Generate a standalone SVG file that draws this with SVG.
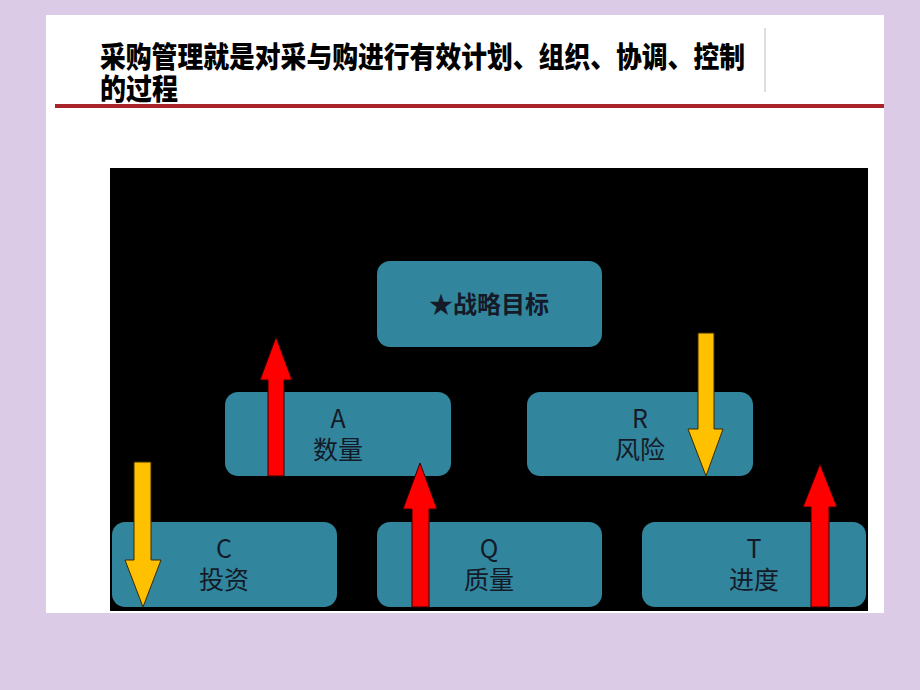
<svg xmlns="http://www.w3.org/2000/svg" width="920" height="690" viewBox="0 0 920 690">
<defs>
<style>
.box{fill:#31859c;}
.lbl{font-family:"Noto Sans CJK SC","Noto Sans",sans-serif;font-size:25px;fill:#141a28;text-anchor:middle;}
.title{font-family:"Noto Sans CJK SC","Noto Sans",sans-serif;font-size:29px;font-weight:900;fill:#000;}
.up{fill:#ff0000;stroke:#300;stroke-width:1;}
.down{fill:#ffc000;stroke:#3a2a00;stroke-width:1;}
</style>
</defs>
<rect x="0" y="0" width="920" height="690" fill="#dccbe6"/>
<rect x="46" y="15" width="838" height="598" fill="#ffffff"/>
<text class="title" x="100" y="68" textLength="645" lengthAdjust="spacingAndGlyphs">采购管理就是对采与购进行有效计划、组织、协调、控制</text>
<text class="title" x="100" y="100" textLength="78" lengthAdjust="spacingAndGlyphs">的过程</text>
<line x1="765" y1="28" x2="765" y2="92" stroke="#c8c8c8" stroke-width="1.2"/>
<rect x="55" y="104" width="829" height="4" fill="#a8232a"/>
<rect x="110" y="168" width="758" height="443" fill="#000000"/>

<g id="goal">
<rect class="box" x="377" y="261" width="225" height="86" rx="13"/>
<text class="lbl" x="489" y="313" style="font-weight:700;font-size:24px">★战略目标</text>
</g>
<g id="A">
<rect class="box" x="225" y="392" width="226" height="84" rx="13"/>
<text class="lbl" x="338" y="428">A</text>
<text class="lbl" x="338" y="459">数量</text>
</g>
<g id="R">
<rect class="box" x="527" y="392" width="226" height="84" rx="13"/>
<text class="lbl" x="640" y="428">R</text>
<text class="lbl" x="640" y="459">风险</text>
</g>
<g id="C">
<rect class="box" x="112" y="522" width="225" height="85" rx="13"/>
<text class="lbl" x="224" y="558">C</text>
<text class="lbl" x="224" y="589">投资</text>
</g>
<g id="Q">
<rect class="box" x="377" y="522" width="225" height="85" rx="13"/>
<text class="lbl" x="489" y="558">Q</text>
<text class="lbl" x="489" y="589">质量</text>
</g>
<g id="T">
<rect class="box" x="642" y="522" width="224" height="85" rx="13"/>
<text class="lbl" x="754" y="558">T</text>
<text class="lbl" x="754" y="589">进度</text>
</g>

<g id="connectors">
<polygon class="up" points="268,476 268,380 260,380 276,337 292,380 284,380 284,476"/>
<polygon class="up" points="412,607 412,509 403,509 420,463 437,509 429,509 429,607"/>
<polygon class="up" points="811,607 811,507 803,507 820,464 837,507 829,507 829,607"/>
<polygon class="down" points="698,333 714,333 714,429 723,429 706,476 688,429 698,429"/>
<polygon class="down" points="134,462 151,462 151,560 161,560 143,607 125,560 134,560"/>
</g>
</svg>
